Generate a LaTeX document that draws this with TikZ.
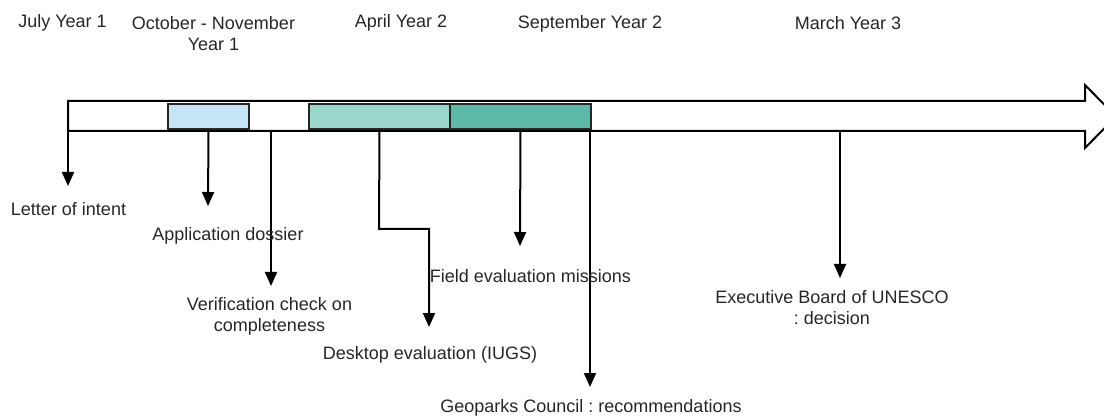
\documentclass[tikz,border=0pt]{standalone}
\usepackage{fontspec}
\setmainfont{Liberation Sans}
\usetikzlibrary{arrows.meta}
\frenchspacing

\definecolor{dossierblue}{HTML}{C5E5F6}
\definecolor{desklight}{HTML}{9BD6CA}
\definecolor{fielddark}{HTML}{5CB9A7}

\tikzset{
  phasebox/.style={draw=black!85, line width=1.5pt, inner sep=0pt, minimum height=18.75pt},
  stagearrow/.style={line width=1.5pt, -{Triangle[width=9pt,length=10.5pt]}},
  evlabel/.style={inner sep=0pt, align=center, text=black!85},
}

\begin{document}
\begin{tikzpicture}[x=0.75pt, y=-0.75pt, line cap=butt, line join=miter,
  font=\fontsize{13.5}{15.75}\selectfont]

\useasboundingbox (0,0) rectangle (1104,417);

% --- Timeline arrow ---
\draw[line width=1.5pt] (68,101) -- (1085,101) -- (1085,85) -- (1116,116.5)
  -- (1085,148) -- (1085,131) -- (68,131) -- cycle;

% --- Phase boxes ---
\node[phasebox, fill=dossierblue, minimum width=60.75pt] (dossierbox) at (208.5,116.5) {};
\node[phasebox, fill=desklight, minimum width=105.75pt] (deskbox) at (379.5,116.5) {};
\node[phasebox, fill=fielddark, minimum width=105.75pt] (fieldbox) at (520.5,116.5) {};

% --- Dates ---
\node[evlabel] (july) at (62.5,23) {July Year 1};
\node[evlabel] (octnov) at (213.5,34) {October - November\\Year 1};
\node[evlabel] (april) at (401,23) {April Year 2};
\node[evlabel] (sept) at (590,24) {September Year 2};
\node[evlabel] (march) at (848,23) {March Year 3};

% --- Arrow ends ---
\coordinate (letterstart) at (68,131);
\coordinate (letterend) at (68,186);
\coordinate (dossierend) at (208,206);
\coordinate (verifstart) at (271,131);
\coordinate (verifend) at (271,286);
\coordinate (deskbend) at (379,229);
\coordinate (deskturn) at (429,229);
\coordinate (deskend) at (429,327);
\coordinate (fieldend) at (520,246);
\coordinate (councilstart) at (590,131);
\coordinate (councilend) at (590,387);
\coordinate (boardstart) at (840,131);
\coordinate (boardend) at (840,278);

% --- Stage arrows ---
\draw[stagearrow] (letterstart) -- (letterend);
\draw[stagearrow] (dossierbox.south) -- (dossierend);
\draw[stagearrow] (verifstart) -- (verifend);
\draw[stagearrow] (deskbox.south) -- (deskbend) -- (deskturn) -- (deskend);
\draw[stagearrow] (fieldbox.south) -- (fieldend);
\draw[stagearrow] (councilstart) -- (councilend);
\draw[stagearrow] (boardstart) -- (boardend);

% --- Labels ---
\node[evlabel] (letter) at (68.5,209) {Letter of intent};
\node[evlabel] (dossier) at (228,236) {Application dossier};
\node[evlabel] (verif) at (269.5,316) {Verification check on\\completeness};
\node[evlabel] (desk) at (430,355) {Desktop evaluation (IUGS)};
\node[evlabel] (field) at (530.5,276) {Field evaluation missions};
\node[evlabel] (council) at (591,408) {Geoparks Council : recommendations};
\node[evlabel] (board) at (832,308) {Executive Board of UNESCO\\: decision};

\end{tikzpicture}
\end{document}
